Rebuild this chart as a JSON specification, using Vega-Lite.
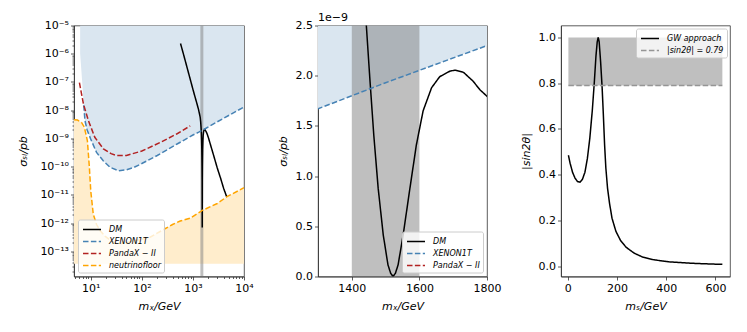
{
  "$schema": "https://vega.github.io/schema/vega-lite/v6.json",
  "background": "white",
  "padding": {"left": 17, "top": 10.5, "right": 5, "bottom": 5},
  "spacing": 74,
  "bounds": "flush",
  "datasets": {
    "curves": [
      {"series": "DM", "mass": 572, "sigma": 2.3e-6},
      {"series": "DM", "mass": 655, "sigma": 9.5e-7},
      {"series": "DM", "mass": 760, "sigma": 3.5e-7},
      {"series": "DM", "mass": 885, "sigma": 1.26e-7},
      {"series": "DM", "mass": 1000, "sigma": 5.5e-8},
      {"series": "DM", "mass": 1110, "sigma": 2.8e-8},
      {"series": "DM", "mass": 1200, "sigma": 1.7e-8},
      {"series": "DM", "mass": 1290, "sigma": 1.05e-8},
      {"series": "DM", "mass": 1350, "sigma": 7.2e-9},
      {"series": "DM", "mass": 1390, "sigma": 5.5e-9},
      {"series": "DM", "mass": 1420, "sigma": 3.8e-9},
      {"series": "DM", "mass": 1443, "sigma": 2.5e-9},
      {"series": "DM", "mass": 1453, "sigma": 1.99e-9},
      {"series": "DM", "mass": 1465, "sigma": 1.41e-9},
      {"series": "DM", "mass": 1478, "sigma": 8.8e-10},
      {"series": "DM", "mass": 1493, "sigma": 4.15e-10},
      {"series": "DM", "mass": 1507, "sigma": 1.16e-10},
      {"series": "DM", "mass": 1515, "sigma": 3.2e-11},
      {"series": "DM", "mass": 1522, "sigma": 7e-13},
      {"series": "DM", "mass": 1529, "sigma": 3.2e-11},
      {"series": "DM", "mass": 1537, "sigma": 1.16e-10},
      {"series": "DM", "mass": 1552, "sigma": 4.15e-10},
      {"series": "DM", "mass": 1572, "sigma": 8.8e-10},
      {"series": "DM", "mass": 1591, "sigma": 1.31e-9},
      {"series": "DM", "mass": 1611, "sigma": 1.65e-9},
      {"series": "DM", "mass": 1636, "sigma": 1.88e-9},
      {"series": "DM", "mass": 1660, "sigma": 1.99e-9},
      {"series": "DM", "mass": 1690, "sigma": 2.045e-9},
      {"series": "DM", "mass": 1705, "sigma": 2.055e-9},
      {"series": "DM", "mass": 1730, "sigma": 2.035e-9},
      {"series": "DM", "mass": 1759, "sigma": 1.945e-9},
      {"series": "DM", "mass": 1779, "sigma": 1.86e-9},
      {"series": "DM", "mass": 1800, "sigma": 1.795e-9},
      {"series": "DM", "mass": 1900, "sigma": 1.45e-9},
      {"series": "DM", "mass": 2000, "sigma": 1.1e-9},
      {"series": "DM", "mass": 2500, "sigma": 2.8e-10},
      {"series": "DM", "mass": 3000, "sigma": 9e-11},
      {"series": "DM", "mass": 3500, "sigma": 3.8e-11},
      {"series": "DM", "mass": 4000, "sigma": 1.7e-11},
      {"series": "DM", "mass": 4600, "sigma": 8.5e-12},
      {"series": "XENON1T", "mass": 6.2, "sigma": 1e-6},
      {"series": "XENON1T", "mass": 6.8, "sigma": 1e-7},
      {"series": "XENON1T", "mass": 7.3, "sigma": 1.5e-8},
      {"series": "XENON1T", "mass": 7.7, "sigma": 4.3e-9},
      {"series": "XENON1T", "mass": 8.5, "sigma": 2e-9},
      {"series": "XENON1T", "mass": 10, "sigma": 9.5e-10},
      {"series": "XENON1T", "mass": 13, "sigma": 3.2e-10},
      {"series": "XENON1T", "mass": 17.7, "sigma": 1.6e-10},
      {"series": "XENON1T", "mass": 24, "sigma": 9.5e-11},
      {"series": "XENON1T", "mass": 35, "sigma": 7.2e-11},
      {"series": "XENON1T", "mass": 50, "sigma": 7.8e-11},
      {"series": "XENON1T", "mass": 70, "sigma": 9.5e-11},
      {"series": "XENON1T", "mass": 100, "sigma": 1.3e-10},
      {"series": "XENON1T", "mass": 200, "sigma": 2.5e-10},
      {"series": "XENON1T", "mass": 500, "sigma": 6.5e-10},
      {"series": "XENON1T", "mass": 1000, "sigma": 1.33e-9},
      {"series": "XENON1T", "mass": 1300, "sigma": 1.67e-9},
      {"series": "XENON1T", "mass": 1500, "sigma": 1.93e-9},
      {"series": "XENON1T", "mass": 1800, "sigma": 2.3e-9},
      {"series": "XENON1T", "mass": 3000, "sigma": 3.9e-9},
      {"series": "XENON1T", "mass": 5000, "sigma": 6.5e-9},
      {"series": "XENON1T", "mass": 10000, "sigma": 1.3e-8},
      {"series": "PandaX − II", "mass": 6, "sigma": 9.5e-8},
      {"series": "PandaX − II", "mass": 7.2, "sigma": 1.65e-8},
      {"series": "PandaX − II", "mass": 9, "sigma": 4.3e-9},
      {"series": "PandaX − II", "mass": 12, "sigma": 1.1e-9},
      {"series": "PandaX − II", "mass": 17.7, "sigma": 4.3e-10},
      {"series": "PandaX − II", "mass": 25, "sigma": 2.9e-10},
      {"series": "PandaX − II", "mass": 32, "sigma": 2.5e-10},
      {"series": "PandaX − II", "mass": 50, "sigma": 2.5e-10},
      {"series": "PandaX − II", "mass": 100, "sigma": 3.6e-10},
      {"series": "PandaX − II", "mass": 228, "sigma": 7.2e-10},
      {"series": "PandaX − II", "mass": 500, "sigma": 1.5e-9},
      {"series": "PandaX − II", "mass": 885, "sigma": 2.8e-9},
      {"series": "neutrinofloor", "mass": 4.7, "sigma": 4.6e-9},
      {"series": "neutrinofloor", "mass": 5.5, "sigma": 4.5e-9},
      {"series": "neutrinofloor", "mass": 6.6, "sigma": 3.7e-9},
      {"series": "neutrinofloor", "mass": 7.5, "sigma": 2.5e-9},
      {"series": "neutrinofloor", "mass": 8.6, "sigma": 8.3e-10},
      {"series": "neutrinofloor", "mass": 9.4, "sigma": 9.5e-11},
      {"series": "neutrinofloor", "mass": 10, "sigma": 1.4e-11},
      {"series": "neutrinofloor", "mass": 11.2, "sigma": 2.1e-12},
      {"series": "neutrinofloor", "mass": 13, "sigma": 9e-13},
      {"series": "neutrinofloor", "mass": 15.2, "sigma": 5.5e-13},
      {"series": "neutrinofloor", "mass": 19, "sigma": 3.5e-13},
      {"series": "neutrinofloor", "mass": 24, "sigma": 2.5e-13},
      {"series": "neutrinofloor", "mass": 30, "sigma": 2e-13},
      {"series": "neutrinofloor", "mass": 40, "sigma": 1.9e-13},
      {"series": "neutrinofloor", "mass": 60, "sigma": 2.2e-13},
      {"series": "neutrinofloor", "mass": 100, "sigma": 2.7e-13},
      {"series": "neutrinofloor", "mass": 145, "sigma": 3.2e-13},
      {"series": "neutrinofloor", "mass": 228, "sigma": 5.1e-13},
      {"series": "neutrinofloor", "mass": 400, "sigma": 9e-13},
      {"series": "neutrinofloor", "mass": 564, "sigma": 1.2e-12},
      {"series": "neutrinofloor", "mass": 885, "sigma": 1.5e-12},
      {"series": "neutrinofloor", "mass": 1500, "sigma": 2.8e-12},
      {"series": "neutrinofloor", "mass": 3000, "sigma": 5e-12},
      {"series": "neutrinofloor", "mass": 4640, "sigma": 8.7e-12},
      {"series": "neutrinofloor", "mass": 10000, "sigma": 1.8e-11}
    ],
    "band": [{"lo": 1400, "hi": 1600}],
    "gw": [
      {"series": "GW approach", "ms": 3, "s": 0.485},
      {"series": "GW approach", "ms": 10, "s": 0.45},
      {"series": "GW approach", "ms": 20, "s": 0.41},
      {"series": "GW approach", "ms": 30, "s": 0.385},
      {"series": "GW approach", "ms": 40, "s": 0.37},
      {"series": "GW approach", "ms": 50, "s": 0.367},
      {"series": "GW approach", "ms": 60, "s": 0.38},
      {"series": "GW approach", "ms": 70, "s": 0.41},
      {"series": "GW approach", "ms": 80, "s": 0.47},
      {"series": "GW approach", "ms": 90, "s": 0.56},
      {"series": "GW approach", "ms": 100, "s": 0.68},
      {"series": "GW approach", "ms": 108, "s": 0.8},
      {"series": "GW approach", "ms": 115, "s": 0.92},
      {"series": "GW approach", "ms": 120, "s": 0.98},
      {"series": "GW approach", "ms": 124, "s": 1.0},
      {"series": "GW approach", "ms": 128, "s": 0.98},
      {"series": "GW approach", "ms": 134, "s": 0.89},
      {"series": "GW approach", "ms": 140, "s": 0.78},
      {"series": "GW approach", "ms": 145, "s": 0.66},
      {"series": "GW approach", "ms": 150, "s": 0.53},
      {"series": "GW approach", "ms": 155, "s": 0.43},
      {"series": "GW approach", "ms": 162, "s": 0.34},
      {"series": "GW approach", "ms": 170, "s": 0.275},
      {"series": "GW approach", "ms": 180, "s": 0.21},
      {"series": "GW approach", "ms": 196, "s": 0.152},
      {"series": "GW approach", "ms": 215, "s": 0.112},
      {"series": "GW approach", "ms": 237, "s": 0.083},
      {"series": "GW approach", "ms": 270, "s": 0.057},
      {"series": "GW approach", "ms": 304, "s": 0.04},
      {"series": "GW approach", "ms": 350, "s": 0.028},
      {"series": "GW approach", "ms": 412, "s": 0.019},
      {"series": "GW approach", "ms": 500, "s": 0.013},
      {"series": "GW approach", "ms": 570, "s": 0.01},
      {"series": "GW approach", "ms": 628, "s": 0.008},
      {"series": "|sin2θ| = 0.79", "ms": 3, "s": 0.79},
      {"series": "|sin2θ| = 0.79", "ms": 628, "s": 0.79}
    ],
    "gwband": [{"x0": 3, "x1": 628, "y0": 0.79, "y1": 1.0}]
  },
  "hconcat": [
    {
      "width": 170,
      "height": 251,
      "layer": [
        {
          "layer": [
            {
              "data": {"name": "curves"},
              "transform": [{"filter": "datum.series === 'XENON1T'"}],
              "mark": {"type": "area", "color": "#dae6f0", "clip": true},
              "encoding": {
                "x": {"field": "mass", "type": "quantitative", "scale": {"type": "log", "domain": [4.7, 10000], "nice": false}, "title": "mₓ/GeV", "axis": {"values": [10, 100, 1000, 10000], "labelExpr": "datum.value < 50 ? '10¹' : datum.value < 500 ? '10²' : datum.value < 5000 ? '10³' : '10⁴'"}},
                "y": {"field": "sigma", "type": "quantitative", "scale": {"type": "log", "domain": [1.3e-14, 1e-5], "nice": false}, "title": "σₛᵢ/pb", "axis": {"titlePadding": 11, "values": [1e-13, 1e-12, 1e-11, 1e-10, 1e-9, 1e-8, 1e-7, 1e-6, 1e-5], "labelExpr": "'10⁻' + (round(-log(datum.value)/LN10) >= 10 ? '¹' + substring('⁰¹²³⁴⁵⁶⁷⁸⁹', round(-log(datum.value)/LN10) - 10, round(-log(datum.value)/LN10) - 9) : substring('⁰¹²³⁴⁵⁶⁷⁸⁹', round(-log(datum.value)/LN10), round(-log(datum.value)/LN10) + 1))"}},
                "y2": {"datum": 1e-5}
              }
            },
            {
              "data": {"name": "curves"},
              "transform": [{"filter": "datum.series === 'neutrinofloor'"}],
              "mark": {"type": "area", "color": "#ffedcc", "clip": true},
              "encoding": {
                "x": {"field": "mass", "type": "quantitative", "scale": {"type": "log", "domain": [4.7, 10000], "nice": false}, "title": "mₓ/GeV"},
                "y": {"field": "sigma", "type": "quantitative", "scale": {"type": "log", "domain": [1.3e-14, 1e-5], "nice": false}, "title": "σₛᵢ/pb"},
                "y2": {"datum": 3.7e-14}
              }
            },
            {
              "data": {"name": "band"},
              "mark": {"type": "rect", "color": "gray", "opacity": 0.5, "clip": true},
              "encoding": {
                "x": {"field": "lo", "type": "quantitative", "scale": {"type": "log", "domain": [4.7, 10000], "nice": false}, "title": "mₓ/GeV"},
                "x2": {"field": "hi"}
              }
            },
            {
              "data": {"name": "curves"},
              "transform": [{"filter": "datum.series !== 'XENON1T' || datum.mass > 7"}],
              "mark": {"type": "line", "strokeWidth": 1.5, "clip": true},
              "encoding": {
                "x": {"field": "mass", "type": "quantitative", "scale": {"type": "log", "domain": [4.7, 10000], "nice": false}, "title": "mₓ/GeV"},
                "y": {"field": "sigma", "type": "quantitative", "scale": {"type": "log", "domain": [1.3e-14, 1e-5], "nice": false}, "title": "σₛᵢ/pb"},
                "color": {"field": "series", "type": "nominal", "scale": {"domain": ["DM", "XENON1T", "PandaX − II", "neutrinofloor"], "range": ["#000000", "#4682b4", "#b22222", "#ffa500"]}, "legend": {"title": null, "orient": "bottom-left", "offset": 4}},
                "strokeDash": {"field": "series", "type": "nominal", "scale": {"domain": ["DM", "XENON1T", "PandaX − II", "neutrinofloor"], "range": [[1, 0], [5.5, 2.4], [5.5, 2.4], [5.5, 2.4]]}, "legend": {"title": null, "orient": "bottom-left", "offset": 4}}
              }
            }
          ]
        },
        {
          "data": {"name": "curves"},
          "mark": {"type": "line", "opacity": 0},
          "encoding": {
            "x": {"field": "mass", "type": "quantitative", "scale": {"type": "log", "domain": [4.7, 10000], "nice": false}, "axis": {"orient": "bottom", "values": [5, 6, 7, 8, 9, 20, 30, 40, 50, 60, 70, 80, 90, 200, 300, 400, 500, 600, 700, 800, 900, 2000, 3000, 4000, 5000, 6000, 7000, 8000, 9000], "labels": false, "domain": false, "tickSize": 2, "title": null}},
            "y": {"field": "sigma", "type": "quantitative", "scale": {"type": "log", "domain": [1.3e-14, 1e-5], "nice": false}, "axis": {"orient": "left", "values": [2e-14, 3e-14, 4e-14, 5e-14, 6e-14, 7e-14, 8e-14, 9e-14, 2e-13, 3e-13, 4e-13, 5e-13, 6e-13, 7e-13, 8e-13, 9e-13, 2e-12, 3e-12, 4e-12, 5e-12, 6e-12, 7e-12, 8e-12, 9e-12, 2e-11, 3e-11, 4e-11, 5e-11, 6e-11, 7e-11, 8e-11, 9e-11, 2e-10, 3e-10, 4e-10, 5e-10, 6e-10, 7e-10, 8e-10, 9e-10, 2e-9, 3e-9, 4e-9, 5e-9, 6e-9, 7e-9, 8e-9, 9e-9, 2e-8, 3e-8, 4e-8, 5e-8, 6e-8, 7e-8, 8e-8, 9e-8, 2e-7, 3e-7, 4e-7, 5e-7, 6e-7, 7e-7, 8e-7, 9e-7, 2e-6, 3e-6, 4e-6, 5e-6, 6e-6, 7e-6, 8e-6, 9e-6], "labels": false, "domain": false, "tickSize": 2, "title": null}}
          }
        }
      ],
      "resolve": {"axis": {"x": "independent", "y": "independent"}}
    },
    {
      "width": 169,
      "height": 251,
      "title": {"text": "1e−9", "anchor": "start", "frame": "group", "fontSize": 11, "fontWeight": "normal", "offset": -3, "font": "DejaVu Sans", "color": "#000000"},
      "layer": [
        {
          "data": {"name": "curves"},
          "transform": [{"filter": "datum.series === 'XENON1T'"}],
          "mark": {"type": "area", "color": "#dae6f0", "clip": true},
          "encoding": {
            "x": {"field": "mass", "type": "quantitative", "scale": {"domain": [1300, 1800], "nice": false, "zero": false}, "title": "mₓ/GeV", "axis": {"values": [1400, 1600, 1800], "format": "d"}},
            "y": {"field": "sigma", "type": "quantitative", "scale": {"domain": [0, 2.5e-9], "nice": false}, "title": "σₛᵢ/pb", "axis": {"values": [0, 5e-10, 1e-9, 1.5e-9, 2e-9, 2.5e-9], "labelExpr": "format(datum.value * 1e9, '.1f')"}},
            "y2": {"datum": 2.5e-9}
          }
        },
        {
          "data": {"name": "band"},
          "mark": {"type": "rect", "color": "gray", "opacity": 0.5, "clip": true},
          "encoding": {
            "x": {"field": "lo", "type": "quantitative", "scale": {"domain": [1300, 1800], "nice": false, "zero": false}, "title": "mₓ/GeV"},
            "x2": {"field": "hi"}
          }
        },
        {
          "data": {"name": "curves"},
          "transform": [{"filter": "datum.series !== 'neutrinofloor'"}],
          "mark": {"type": "line", "strokeWidth": 1.5, "clip": true},
          "encoding": {
            "x": {"field": "mass", "type": "quantitative", "scale": {"domain": [1300, 1800], "nice": false, "zero": false}, "title": "mₓ/GeV"},
            "y": {"field": "sigma", "type": "quantitative", "scale": {"domain": [0, 2.5e-9], "nice": false}, "title": "σₛᵢ/pb"},
            "color": {"field": "series", "type": "nominal", "scale": {"domain": ["DM", "XENON1T", "PandaX − II"], "range": ["#000000", "#4682b4", "#b22222"]}, "legend": {"title": null, "orient": "bottom-right", "offset": 4}},
            "strokeDash": {"field": "series", "type": "nominal", "scale": {"domain": ["DM", "XENON1T", "PandaX − II"], "range": [[1, 0], [5.5, 2.4], [5.5, 2.4]]}, "legend": {"title": null, "orient": "bottom-right", "offset": 4}}
          }
        }
      ]
    },
    {
      "width": 169,
      "height": 251,
      "layer": [
        {
          "data": {"name": "gwband"},
          "mark": {"type": "rect", "color": "#bfbfbf"},
          "encoding": {
            "x": {"field": "x0", "type": "quantitative", "scale": {"domain": [-27, 659], "nice": false, "zero": false}, "title": "mₛ/GeV", "axis": {"values": [0, 200, 400, 600]}},
            "x2": {"field": "x1"},
            "y": {"field": "y0", "type": "quantitative", "scale": {"domain": [-0.045, 1.052], "nice": false, "zero": false}, "title": "|sin2θ|", "axis": {"values": [0, 0.2, 0.4, 0.6, 0.8, 1.0], "format": ".1f"}},
            "y2": {"field": "y1"}
          }
        },
        {
          "data": {"name": "gw"},
          "mark": {"type": "line", "strokeWidth": 1.5},
          "encoding": {
            "x": {"field": "ms", "type": "quantitative", "scale": {"domain": [-27, 659], "nice": false, "zero": false}, "title": "mₛ/GeV"},
            "y": {"field": "s", "type": "quantitative", "scale": {"domain": [-0.045, 1.052], "nice": false, "zero": false}, "title": "|sin2θ|"},
            "color": {"field": "series", "type": "nominal", "scale": {"domain": ["GW approach", "|sin2θ| = 0.79"], "range": ["#000000", "#959595"]}, "legend": {"title": null, "orient": "top-right", "offset": 3}},
            "strokeDash": {"field": "series", "type": "nominal", "scale": {"domain": ["GW approach", "|sin2θ| = 0.79"], "range": [[1, 0], [5.5, 2.4]]}, "legend": {"title": null, "orient": "top-right", "offset": 3}}
          }
        }
      ]
    }
  ],
  "resolve": {
    "scale": {"x": "independent", "y": "independent", "color": "independent", "strokeDash": "independent"},
    "axis": {"x": "independent", "y": "independent"},
    "legend": {"color": "independent", "strokeDash": "independent"}
  },
  "config": {
    "font": "DejaVu Sans",
    "view": {"stroke": "#333333", "strokeWidth": 0.8},
    "axis": {
      "grid": false,
      "labelFont": "DejaVu Sans",
      "labelFontSize": 11,
      "labelColor": "#000000",
      "labelPadding": 2,
      "labelFlush": false,
      "labelOverlap": false,
      "titleFont": "DejaVu Sans",
      "titleFontSize": 11,
      "titleFontWeight": "normal",
      "titleFontStyle": "italic",
      "titleColor": "#000000",
      "titlePadding": 7,
      "tickColor": "#333333",
      "tickSize": 3.5,
      "tickWidth": 0.8,
      "domainColor": "#333333",
      "domainWidth": 0.8
    },
    "legend": {
      "labelFont": "DejaVu Sans",
      "labelFontSize": 8,
      "labelFontStyle": "italic",
      "labelColor": "#000000",
      "symbolType": "M-1.5,0H1.5",
      "symbolSize": 144,
      "symbolStrokeWidth": 1.5,
      "symbolOffset": 4,
      "labelOffset": 10,
      "fillColor": "rgba(255,255,255,0.8)",
      "strokeColor": "#cccccc",
      "cornerRadius": 2,
      "padding": 3,
      "rowPadding": 1
    }
  }
}
